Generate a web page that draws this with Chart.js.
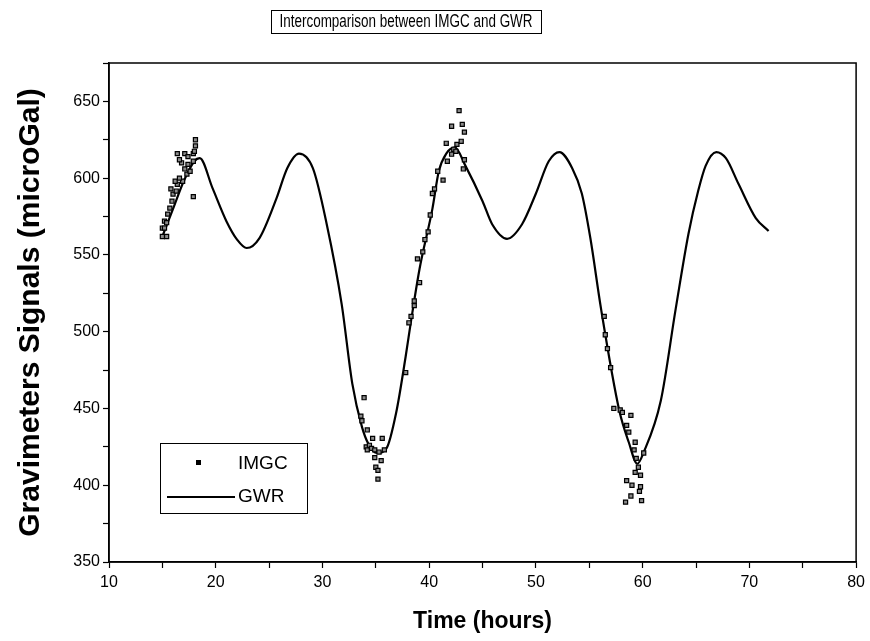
<!DOCTYPE html>
<html>
<head>
<meta charset="utf-8">
<script src="https://cdn.jsdelivr.net/npm/chart.js@4.4.0/dist/chart.umd.min.js"></script>
<style>
html, body { margin: 0; padding: 0; background: #fff; }
</style>
</head>
<body>
<canvas id="gravity_chart" width="870" height="641"></canvas>
<script>
// CHART TEXT
const chart_title = "Intercomparison between IMGC and GWR";
const x_title = "Time (hours)";
const y_title = "Gravimeters Signals (microGal)";
const series_names = ["IMGC", "GWR"];

// AXIS TICKS (labelled ones)
const x_labels = [10, 20, 30, 40, 50, 60, 70, 80];
const y_labels = [350, 400, 450, 500, 550, 600, 650];

// IMGC ABSOLUTE GRAVIMETER (hours, microGal)
const imgc_time = [
	15.0, 15.4, 15.0, 15.2, 15.2, 15.4, 15.5, 15.7, 15.9, 16.0, 15.8, 16.3, 16.4, 16.2, 16.9, 16.6,
	17.3, 17.6, 17.1, 16.8, 16.6, 16.4, 17.1, 17.4, 17.4, 17.9, 17.9, 18.0, 18.1, 18.1, 17.9,
	33.9, 33.6, 33.7, 34.2, 34.1, 34.4, 34.2, 34.6, 34.7, 35.6, 34.9, 35.3, 34.9, 35.5, 35.8, 35.0, 35.2, 35.2,
	37.8, 38.1, 38.3, 38.6, 38.6, 39.1, 38.9, 39.4, 39.6, 39.9, 40.1, 40.3, 40.5, 40.8, 41.3, 41.6, 41.7,
	42.1, 42.3, 42.5, 42.6, 43.0, 42.1, 43.1, 43.3, 42.8, 43.3, 43.2,
	56.4, 56.5, 56.7, 57.0, 57.3, 57.9, 58.1, 58.9, 58.5, 58.7, 59.3, 59.2, 59.4, 59.6, 59.3, 59.8,
	58.5, 59.0, 59.8, 60.1, 58.4, 58.9, 59.9, 59.7
];
const imgc_value = [
	562, 562, 567.5, 567.5, 572, 571, 576.6, 580.5, 585, 589.6, 593, 591.6, 596, 598, 598, 600,
	602.6, 604.5, 606, 610, 612, 616, 616, 614, 609, 611, 616, 617.5, 621, 625, 588,
	457, 445, 442, 436, 425, 426, 423, 424, 430.5, 430.5, 423, 421.6, 418, 416, 423, 411.7, 409.7, 404,
	473.4, 505.8, 510, 517, 520, 532, 547.4, 552, 560, 565, 576, 590, 593, 604.5, 598.7, 622.7, 611,
	615.6, 618.8, 617.5, 622, 624, 633.8, 635, 630, 644, 612, 606,
	510, 498, 489, 476.6, 450, 449, 447.4, 445.5, 439, 434.6, 428, 423, 417.5, 411.7, 408.4, 406.5,
	403, 400, 399, 421, 389, 393, 390, 396
];

// GWR SUPERCONDUCTING GRAVIMETER (hours, microGal)
const gwr_time = [
	15.0, 16.0, 17.0, 18.0, 18.5, 19.7, 21.0, 22.0, 22.9, 24.1, 25.7, 26.7, 27.8, 29.1, 30.4,
	31.8, 32.8, 33.7, 34.3, 35.1, 36.0, 36.9, 37.8, 38.3, 39.1, 40.3, 40.9, 41.6, 42.4, 43.4,
	45.0, 45.9, 47.3, 48.7, 50.0, 51.2, 52.2, 53.4, 54.3, 55.1, 56.1, 57.8, 58.7, 59.5, 60.1,
	61.7, 63.1, 64.3, 65.2, 65.9, 66.9, 67.8, 69.0, 70.6, 71.8
];
const gwr_value = [
	562, 580, 598, 611, 613, 593.5, 572, 560, 554.5, 561, 587, 606.5, 616, 606.5, 570,
	518, 466, 438, 427, 421, 424, 447, 484, 507, 541, 580, 604.5, 616, 620, 608,
	585, 570, 560.5, 570, 590, 611, 617, 606.5, 590, 561, 515, 449, 428, 414, 421.5,
	455, 515, 564, 591.6, 608, 617, 613, 596, 574, 565.6
];

const font_family = '"Liberation Sans", Arial, sans-serif';
const ctx = document.getElementById("gravity_chart").getContext("2d");

// BOX AROUND PLOT + TITLE BOX + LEGEND
const frame_plugin = {
	id: 'frame',
	afterDraw(chart){
		const c = chart.ctx;
		const a = chart.chartArea;
		c.save();
		c.strokeStyle = '#000';
		c.lineWidth = 1.5;
		c.strokeRect(a.left, a.top, a.right - a.left, a.bottom - a.top);

		// title in a box (narrow lettering, like the original)
		c.lineWidth = 1;
		c.strokeRect(271.5, 10.5, 270, 23);
		c.save();
		c.translate(406, 22);
		c.scale(0.77, 1);
		c.font = '17.5px ' + font_family;
		c.fillStyle = '#000';
		c.textAlign = 'center';
		c.textBaseline = 'middle';
		c.fillText(chart_title, 0, 0);
		c.restore();

		// legend
		const lx = a.left + 51, ly = a.top + 380;
		c.strokeRect(lx + 0.5, ly + 0.5, 147, 70);
		c.fillStyle = '#000';
		c.fillRect(lx + 36, ly + 17, 5, 5);
		c.lineWidth = 2;
		c.beginPath();
		c.moveTo(lx + 7, ly + 54);
		c.lineTo(lx + 75, ly + 54);
		c.stroke();
		c.font = '19px ' + font_family;
		c.textAlign = 'left';
		c.textBaseline = 'middle';
		c.fillText(series_names[0], lx + 78, ly + 21);
		c.fillText(series_names[1], lx + 78, ly + 54);
		c.restore();
	}
};

let my_chart = new Chart(ctx, {
	type: 'scatter',
	data: {
		datasets: [{
			label: series_names[0],
			data: imgc_time.map((t, i) => ({ x: t, y: imgc_value[i] })),
			pointStyle: 'rect',
			pointRadius: 2.9,
			pointBorderWidth: 1.2,
			pointBorderColor: '#000',
			pointBackgroundColor: '#8a8a8a',
			showLine: false,
			order: 1
		},{
			label: series_names[1],
			data: gwr_time.map((t, i) => ({ x: t, y: gwr_value[i] })),
			showLine: true,
			borderColor: '#000',
			borderWidth: 2.2,
			pointRadius: 0,
			cubicInterpolationMode: 'monotone',
			fill: false,
			order: 2
		}]
	},
	options: {
		responsive: false,
		animation: false,
		layout: { padding: { top: 63, right: 12, left: 0, bottom: 0 } },
		plugins: {
			legend: { display: false },
			title: { display: false },
			tooltip: { enabled: false }
		},
		scales: {
			x: {
				type: 'linear',
				min: 10,
				max: 80,
				grid: { drawOnChartArea: false, color: '#000', tickLength: 6, tickWidth: 1.2 },
				border: { color: '#000', width: 1.5 },
				ticks: {
					stepSize: 5,
					color: '#000',
					font: { family: font_family, size: 16 },
					maxRotation: 0,
					padding: 5,
					callback: v => x_labels.includes(v) ? v : ''
				},
				title: {
					display: true,
					text: x_title,
					color: '#000',
					font: { family: font_family, size: 23, weight: 'bold' },
					padding: { top: 8, bottom: 6 }
				},
				afterFit: scale => { scale.height = 79; }
			},
			y: {
				type: 'linear',
				min: 350,
				max: 675,
				grid: { drawOnChartArea: false, color: '#000', tickLength: 6, tickWidth: 1.2 },
				border: { color: '#000', width: 1.5 },
				ticks: {
					stepSize: 25,
					color: '#000',
					font: { family: font_family, size: 16 },
					padding: 3,
					callback: v => y_labels.includes(v) ? v : ''
				},
				title: {
					display: true,
					text: y_title,
					color: '#000',
					font: { family: font_family, size: 30, weight: 'bold' },
					padding: { top: 13, bottom: 4 }
				},
				afterFit: scale => { scale.width = 109; }
			}
		}
	},
	plugins: [frame_plugin]
});
</script>
</body>
</html>
